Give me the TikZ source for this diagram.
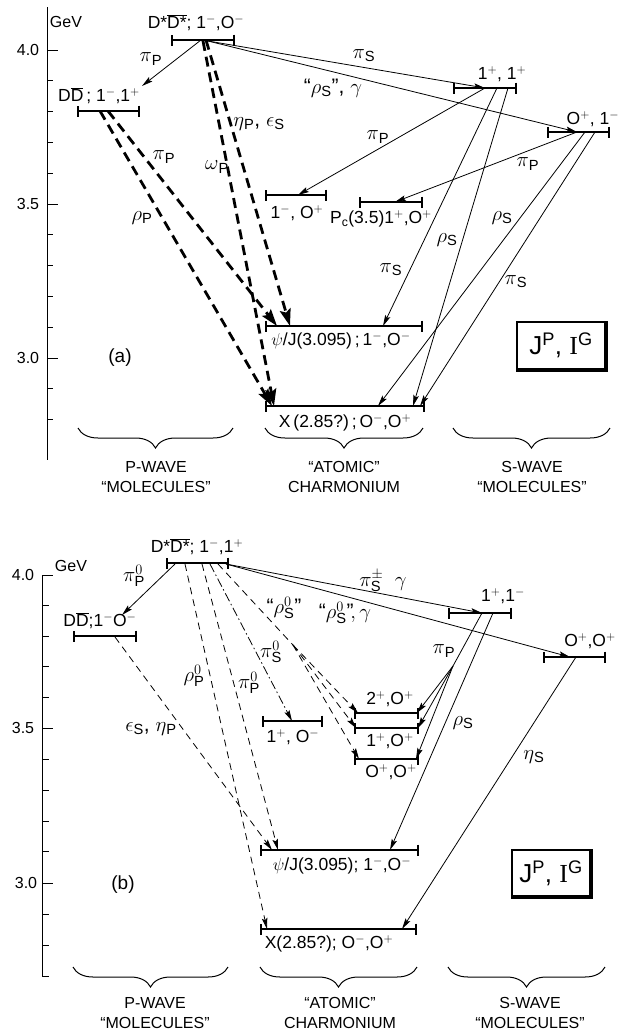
\documentclass[tikz,border=0pt]{standalone}
\usepackage{fontspec}
\setmainfont{Liberation Sans}
\newfontfamily\serfont{Liberation Serif}
\usetikzlibrary{arrows.meta,decorations.pathreplacing}
\newcommand{\qp}{\ensuremath{^{+}}}
\newcommand{\qm}{\ensuremath{^{-}}}
\newcommand{\sbs}[1]{\ensuremath{_{\mathrm{#1}}}}
\begin{document}
\begin{tikzpicture}[x=1pt,y=-1pt,
  lvl/.style={font=\fontsize{17.5}{20}\selectfont, inner sep=0pt},
  lab/.style={font=\fontsize{21}{24}\selectfont, inner sep=0pt},
  tag/.style={font=\fontsize{19}{22}\selectfont, inner sep=0pt},
  ax/.style={font=\fontsize{16}{18}\selectfont, inner sep=0pt},
  cat/.style={font=\fontsize{16}{18}\selectfont, inner sep=0pt},
  level/.style={line width=2.2pt, {Bar[width=11pt,line width=1.6pt]}-{Bar[width=11pt,line width=1.6pt]}},
  sol/.style={line width=0.8pt, -{Stealth[length=11pt,width=5.5pt,inset=2pt]}},
  solnt/.style={line width=0.8pt},
  thk/.style={line width=2.8pt, dash pattern=on 10pt off 6pt, -{Stealth[length=17pt,width=11pt,inset=3pt]}},
  thn/.style={line width=0.8pt, dash pattern=on 7pt off 5pt, -{Stealth[length=11pt,width=5.5pt,inset=2pt]}},
  thnnt/.style={line width=0.8pt, dash pattern=on 7pt off 5pt},
  dashdot/.style={line width=0.8pt, dash pattern=on 9pt off 3pt on 1.5pt off 3pt, -{Stealth[length=11pt,width=5.5pt,inset=2pt]}},
  brc/.style={decorate, decoration={brace, mirror, amplitude=20pt}, line width=1pt},
  axis/.style={line width=1pt},
  jbox/.style={draw, line width=1.2pt, minimum width=88pt, minimum height=47pt, inner sep=0pt, font=\fontsize{26}{28}\selectfont}
]
\useasboundingbox (0,0) rectangle (618,1034);
\fill[white] (0,0) rectangle (618,1034);

%================ (a) ================
\coordinate (aT) at (47,7);
\coordinate (aB) at (47,460);
\draw[axis] (aT) -- (aB);
\foreach \yy in {50,204,358} \draw[axis] (47,\yy) -- (58,\yy);
\foreach \yy in {80.8,111.6,142.4,173.2,234.8,265.6,296.4,327.2,388.8,419.6} \draw[axis] (47,\yy) -- (53,\yy);
\node[ax] (aGeV) at (66,22) {GeV};
\node[ax] (a40) at (28,50) {4.0};
\node[ax] (a35) at (28,204) {3.5};
\node[ax] (a30) at (28,358) {3.0};

\coordinate (adsL) at (171,40); \coordinate (adsR) at (235,40);
\draw[level] (adsL) -- (adsR);
\node[lvl] (adsT) at (196,23) {D*$\overline{\hbox{D*}}$; 1\qm,O\qm};

\coordinate (addL) at (77,111); \coordinate (addR) at (140,111);
\draw[level] (addL) -- (addR);
\node[lvl] (addT) at (99,96) {D$\overline{\hbox{D}}$\,; 1\qm,1\qp};

\coordinate (as11L) at (453,88); \coordinate (as11R) at (517,88);
\draw[level] (as11L) -- (as11R);
\node[lvl] (as11T) at (502,74) {1\qp, 1\qp};

\coordinate (as01L) at (547,132); \coordinate (as01R) at (610,132);
\draw[level] (as01L) -- (as01R);
\node[lvl] (as01T) at (593,119) {O\qp, 1\qm};

\coordinate (ap10L) at (265,195); \coordinate (ap10R) at (327,195);
\draw[level] (ap10L) -- (ap10R);
\node[lvl] (ap10T) at (297,213) {1\qm, O\qp};

\coordinate (apcL) at (359,202); \coordinate (apcR) at (423,202);
\draw[level] (apcL) -- (apcR);
\node[lvl] (apcT) at (381,219) {P\sbs{c}(3.5)1\qp,O\qp};

\coordinate (apsiL) at (265,326); \coordinate (apsiR) at (423,326);
\draw[level] (apsiL) -- (apsiR);
\node[lvl] (apsiT) at (341,341) {$\psi$/J(3.095)\,;\,1\qm,O\qm};

\coordinate (axL) at (265,406); \coordinate (axR) at (425,406);
\draw[level] (axL) -- (axR);
\node[lvl] (axT) at (345,423) {X\,(2.85?)\,;\,O\qm,O\qp};

\coordinate (ads1) at (201,40);
\coordinate (ads2) at (206,40);
\coordinate (ads3) at (203,41);
\coordinate (ads4) at (208,41);
\coordinate (add1) at (100,111);
\coordinate (add2) at (108,111);
\coordinate (addin) at (142,86);
\coordinate (as11a) at (485,88);
\coordinate (as11b) at (497,88);
\coordinate (as11c) at (508,88);
\coordinate (as01a) at (577,132);
\coordinate (as01b) at (585,132);
\coordinate (as01c) at (595,132);
\coordinate (ap10in) at (298,195);
\coordinate (apcin) at (395,202);
\coordinate (apsi1) at (277,326);
\coordinate (apsi2) at (290,326);
\coordinate (apsi3) at (383,326);
\coordinate (ax1) at (272,406);
\coordinate (ax2) at (274,406);
\coordinate (ax3) at (378,406);
\coordinate (ax4) at (413,406);
\coordinate (ax5) at (420,406);

\draw[sol] (ads1) -- (addin);
\node[lab] (lpa1) at (151,59) {$\pi$\sbs{P}};
\draw[sol] (ads4) -- (as11a);
\node[lab] (lpa2) at (364,56) {$\pi$\sbs{S}};
\draw[sol] (ads4) -- (as01a);
\node[lab] (lpa3) at (333,88) {``$\rho$\sbs{S}'', $\gamma$};
\draw[thk] (ads2) -- (apsi2);
\node[lab] (lpa4) at (259,124) {$\eta$\sbs{P}, $\epsilon$\sbs{S}};
\draw[thk] (ads3) -- (ax2);
\node[lab] (lpa5) at (217,167) {$\omega$\sbs{P}};
\draw[thk] (add2) -- (apsi1);
\node[lab] (lpa6) at (164,157) {$\pi$\sbs{P}};
\draw[thk] (add1) -- (ax1);
\node[lab] (lpa7) at (142,218) {$\rho$\sbs{P}};
\draw[sol] (as11a) -- (ap10in);
\node[lab] (lpa8) at (378,137) {$\pi$\sbs{P}};
\draw[sol] (as01a) -- (apcin);
\node[lab] (lpa9) at (528,164) {$\pi$\sbs{P}};
\draw[sol] (as11b) -- (apsi3);
\node[lab] (lpa10) at (391,270) {$\pi$\sbs{S}};
\draw[sol] (as11c) -- (ax4);
\node[lab] (lpa11) at (447,240) {$\rho$\sbs{S}};
\draw[sol] (as01b) -- (ax3);
\node[lab] (lpa12) at (502,218) {$\rho$\sbs{S}};
\draw[sol] (as01c) -- (ax5);
\node[lab] (lpa13) at (516,282) {$\pi$\sbs{S}};

\node[jbox] (aBox) at (561,345.5) {J$^{\mathrm{P}}$, {\serfont I}$^{\mathrm{G}}$};
\draw[line width=3pt] ([xshift=1pt]aBox.north east) -- ([xshift=1pt,yshift=-1pt]aBox.south east) -- ([yshift=-1pt]aBox.south west);
\node[tag] (atag) at (120,358) {(a)};
\coordinate (abP1) at (78,428); \coordinate (abP2) at (233,428);
\coordinate (abA1) at (265,428); \coordinate (abA2) at (423,428);
\coordinate (abS1) at (453,428); \coordinate (abS2) at (610,428);
\draw[brc] (abP1) -- (abP2);
\draw[brc] (abA1) -- (abA2);
\draw[brc] (abS1) -- (abS2);
\node[cat] (acP1) at (156,467) {P-WAVE};
\node[cat] (acP2) at (156,487) {``MOLECULES''};
\node[cat] (acA1) at (344,467) {``ATOMIC''};
\node[cat] (acA2) at (344,487) {CHARMONIUM};
\node[cat] (acS1) at (532,467) {S-WAVE};
\node[cat] (acS2) at (532,487) {``MOLECULES''};

%================ (b) ================
\coordinate (bT) at (42,575);
\coordinate (bB) at (42,976);
\draw[axis] (bT) -- (bB);
\foreach \yy in {575,728,883} \draw[axis] (42,\yy) -- (53,\yy);
\foreach \yy in {605.6,636.2,666.8,697.4,759,790,821,851.8,914,945,976} \draw[axis] (42,\yy) -- (49,\yy);
\node[ax] (bGeV) at (71,566) {GeV};
\node[ax] (b40) at (23,575) {4.0};
\node[ax] (b35) at (23,728) {3.5};
\node[ax] (b30) at (26,883) {3.0};

\coordinate (bdsL) at (166,563); \coordinate (bdsR) at (229,563);
\draw[level] (bdsL) -- (bdsR);
\node[lvl] (bdsT) at (197,547) {D*$\overline{\hbox{D*}}$; 1\qm,1\qp};

\coordinate (bddL) at (73,636); \coordinate (bddR) at (137,636);
\draw[level] (bddL) -- (bddR);
\node[lvl] (bddT) at (100,621) {D$\overline{\hbox{D}}$;1\qm O\qm};

\coordinate (bs11L) at (448,613); \coordinate (bs11R) at (512,613);
\draw[level] (bs11L) -- (bs11R);
\node[lvl] (bs11T) at (503,596) {1\qp,1\qm};

\coordinate (bs00L) at (543,657); \coordinate (bs00R) at (606,657);
\draw[level] (bs00L) -- (bs00R);
\node[lvl] (bs00T) at (590,641) {O\qp,O\qp};

\coordinate (bp10L) at (262,721); \coordinate (bp10R) at (323,721);
\draw[level] (bp10L) -- (bp10R);
\node[lvl] (bp10T) at (293,737) {1\qp, O\qm};

\coordinate (ba20L) at (354,713); \coordinate (ba20R) at (419,713);
\draw[level] (ba20L) -- (ba20R);
\node[lvl] (ba20T) at (390,699) {2\qp,O\qp};

\coordinate (ba10L) at (354,728); \coordinate (ba10R) at (419,728);
\draw[level] (ba10L) -- (ba10R);
\node[lvl] (ba10T) at (390,741) {1\qp,O\qp};

\coordinate (ba00L) at (354,759); \coordinate (ba00R) at (419,759);
\draw[level] (ba00L) -- (ba00R);
\node[lvl] (ba00T) at (391,772) {O\qp,O\qp};

\coordinate (bpsiL) at (260,850); \coordinate (bpsiR) at (419,850);
\draw[level] (bpsiL) -- (bpsiR);
\node[lvl] (bpsiT) at (342,866) {$\psi$/J(3.095); 1\qm,O\qm};

\coordinate (bxL) at (260,929); \coordinate (bxR) at (417,929);
\draw[level] (bxL) -- (bxR);
\node[lvl] (bxT) at (329,944) {X(2.85?); O\qm,O\qp};

\coordinate (bds1) at (175,564);
\coordinate (bds2) at (185,564);
\coordinate (bds3) at (202,564);
\coordinate (bds4) at (210,564);
\coordinate (bds5) at (218,564);
\coordinate (bds6) at (226,564);
\coordinate (bddin) at (122,615);
\coordinate (bdd1) at (115,637);
\coordinate (bs11a) at (482,613);
\coordinate (bs11b) at (493,613);
\coordinate (bs00a) at (570,657);
\coordinate (bs00b) at (576,657);
\coordinate (bfanL) at (293,645);
\coordinate (bfanR) at (453,666);
\coordinate (bp10in) at (292,721);
\coordinate (ba20a) at (358,713);
\coordinate (ba20b) at (417,713);
\coordinate (ba10a) at (356,728);
\coordinate (ba10b) at (418,728);
\coordinate (ba00a) at (359,759);
\coordinate (ba00b) at (416,759);
\coordinate (bpsi1) at (272,850);
\coordinate (bpsi2) at (278,850);
\coordinate (bpsi3) at (390,850);
\coordinate (bx1) at (267,929);
\coordinate (bx2) at (402,929);

\draw[sol] (bds1) -- (bddin);
\node[lab] (lpb1) at (134,576) {$\pi^{0}_{\mathrm{P}}$};
\draw[sol] (bds6) -- (bs11a);
\node[lab] (lpb2) at (383,581) {$\pi^{\pm}_{\mathrm{S}}$\ \ $\gamma$};
\draw[sol] (bds6) -- (bs00a);
\node[lab] (lpb3) at (345,613) {``$\rho^{0}_{\mathrm{S}}$''$\!,\gamma$};
\draw[thn] (bdd1) -- (bpsi1);
\node[lab] (lpb4) at (151,729) {$\epsilon$\sbs{S}, $\eta$\sbs{P}};
\draw[thn] (bds2) -- (bx1);
\node[lab] (lpb5) at (194,676) {$\rho^{0}_{\mathrm{P}}$};
\draw[thn] (bds3) -- (bpsi2);
\node[lab] (lpb6) at (249,683) {$\pi^{0}_{\mathrm{P}}$};
\draw[dashdot] (bds4) -- (bp10in);
\node[lab] (lpb7) at (271,652) {$\pi^{0}_{\mathrm{S}}$};
\draw[thnnt] (bds5) -- (bfanL);
\node[lab] (lpb8) at (284,608) {``$\rho^{0}_{\mathrm{S}}$''};
\draw[thn] (bfanL) -- (ba20a);
\draw[thn] (bfanL) -- (ba10a);
\draw[thn] (bfanL) -- (ba00a);
\draw[solnt] (bs11a) -- (bfanR);
\node[lab] (lpb9) at (444,651) {$\pi$\sbs{P}};
\draw[sol] (bfanR) -- (ba20b);
\draw[sol] (bfanR) -- (ba10b);
\draw[sol] (bfanR) -- (ba00b);
\draw[sol] (bs11b) -- (bpsi3);
\node[lab] (lpb10) at (463,723) {$\rho$\sbs{S}};
\draw[sol] (bs00b) -- (bx2);
\node[lab] (lpb11) at (534,757) {$\eta$\sbs{S}};

\node[jbox, minimum width=78pt, minimum height=46pt] (bBox) at (551,873) {J$^{\mathrm{P}}$, {\serfont I}$^{\mathrm{G}}$};
\draw[line width=3pt] ([xshift=1pt]bBox.north east) -- ([xshift=1pt,yshift=-1pt]bBox.south east) -- ([yshift=-1pt]bBox.south west);
\node[tag] (btag) at (123,885) {(b)};
\coordinate (bbP1) at (73,967); \coordinate (bbP2) at (228,967);
\coordinate (bbA1) at (260,967); \coordinate (bbA2) at (417,967);
\coordinate (bbS1) at (448,967); \coordinate (bbS2) at (605,967);
\draw[brc] (bbP1) -- (bbP2);
\draw[brc] (bbA1) -- (bbA2);
\draw[brc] (bbS1) -- (bbS2);
\node[cat] (bcP1) at (155,1003) {P-WAVE};
\node[cat] (bcP2) at (155,1023) {``MOLECULES''};
\node[cat] (bcA1) at (340,1003) {``ATOMIC''};
\node[cat] (bcA2) at (340,1023) {CHARMONIUM};
\node[cat] (bcS1) at (530,1003) {S-WAVE};
\node[cat] (bcS2) at (530,1023) {``MOLECULES''};
\end{tikzpicture}
\end{document}
